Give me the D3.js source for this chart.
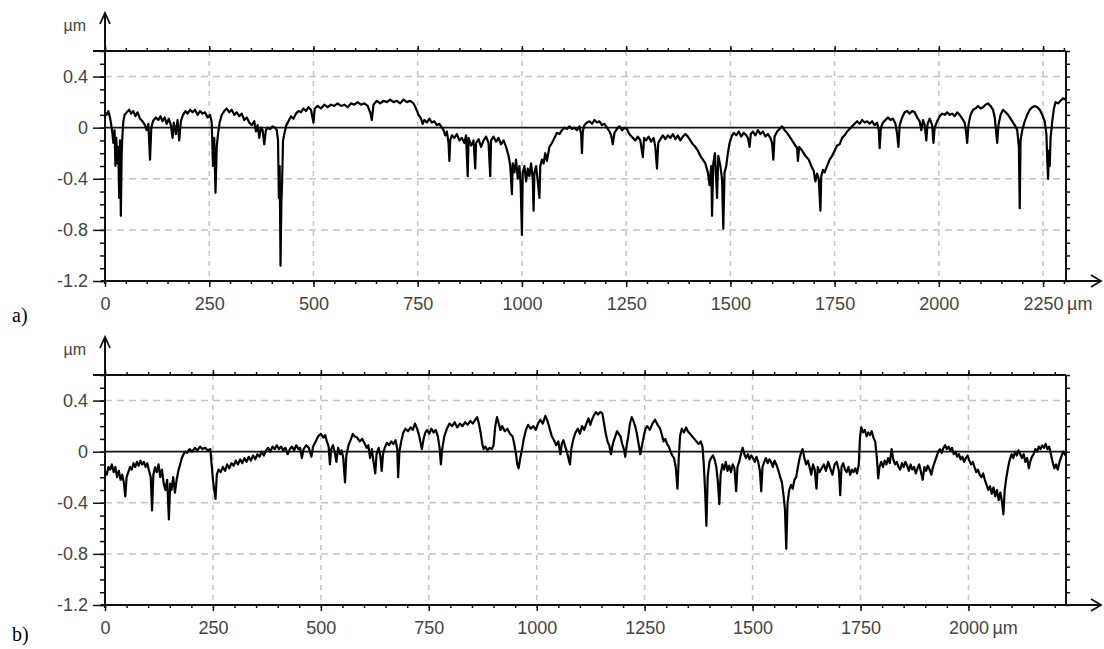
<!DOCTYPE html>
<html>
<head>
<meta charset="utf-8">
<script src="https://cdn.jsdelivr.net/npm/d3@7"></script>
<style>
body { margin: 0; background: #fff; }
</style>
</head>
<body>
<div id="chart"></div>
<script>
// profile a) : [position µm, height µm]
var profileA = [
[0,0.12],[4,0.10],[8,0.13],[12,0.08],[15,0.02],[18,-0.05],[20,-0.12],[23,-0.02],[25,-0.30],[27,-0.08],
[30,-0.28],[32,-0.15],[34,-0.55],[36,-0.10],[38,-0.69],[40,-0.20],[42,-0.05],[44,0.05],[47,0.10],[52,0.12],
[58,0.14],[63,0.11],[68,0.13],[73,0.09],[78,0.12],[84,0.07],[90,0.05],[96,0.02],[100,-0.02],[104,0.03],
[108,-0.25],[111,0.00],[115,0.05],[122,0.08],[128,0.06],[133,0.09],[138,0.05],[143,0.08],[148,0.03],[153,0.07],
[158,0.02],[162,-0.08],[165,0.04],[170,-0.05],[174,0.06],[178,-0.10],[182,0.05],[187,0.10],[193,0.13],[198,0.11],
[204,0.14],[210,0.12],[216,0.14],[222,0.10],[228,0.13],[234,0.11],[240,0.12],[246,0.08],[252,0.10],[256,0.04],
[259,-0.30],[262,-0.08],[265,-0.51],[268,-0.15],[271,-0.05],[275,0.04],[280,0.10],[286,0.13],[292,0.15],[298,0.12],
[304,0.14],[310,0.10],[316,0.12],[322,0.09],[328,0.11],[334,0.06],[340,0.08],[346,0.04],[352,0.02],[358,0.05],
[362,-0.03],[366,0.02],[370,-0.08],[374,0.00],[378,-0.02],[382,-0.13],[386,-0.02],[390,0.00],[396,-0.01],[402,0.01],
[408,0.00],[412,-0.02],[415,-0.10],[417,-0.55],[419,-0.30],[421,-1.08],[423,-0.60],[425,-0.40],[427,-0.10],[430,-0.05],
[435,0.02],[440,0.05],[446,0.09],[452,0.07],[458,0.11],[464,0.13],[470,0.12],[476,0.15],[482,0.13],[488,0.16],
[494,0.14],[500,0.04],[503,0.15],[510,0.17],[518,0.15],[526,0.18],[534,0.16],[542,0.18],[550,0.17],[558,0.19],
[566,0.17],[574,0.18],[582,0.16],[590,0.19],[598,0.18],[606,0.20],[614,0.18],[622,0.19],[630,0.17],[636,0.12],
[640,0.06],[644,0.18],[652,0.21],[660,0.19],[668,0.21],[676,0.20],[684,0.22],[692,0.20],[700,0.21],[708,0.19],
[716,0.22],[724,0.20],[732,0.21],[740,0.19],[746,0.15],[752,0.10],[758,0.07],[762,0.03],[766,0.06],[772,0.04],
[778,0.07],[784,0.04],[790,0.05],[796,0.02],[802,0.03],[808,0.00],[812,-0.02],[816,-0.06],[820,-0.03],[824,-0.12],
[826,-0.26],[828,-0.10],[832,-0.06],[838,-0.08],[844,-0.05],[850,-0.10],[856,-0.08],[862,-0.12],[866,-0.06],[870,-0.38],
[872,-0.08],[878,-0.14],[884,-0.10],[888,-0.32],[890,-0.12],[896,-0.09],[902,-0.15],[908,-0.10],[914,-0.07],[920,-0.12],
[924,-0.38],[926,-0.10],[932,-0.07],[938,-0.11],[944,-0.08],[950,-0.13],[956,-0.10],[962,-0.15],[968,-0.22],[972,-0.30],
[976,-0.52],[978,-0.28],[982,-0.35],[986,-0.25],[990,-0.40],[994,-0.30],[997,-0.45],[1000,-0.84],[1002,-0.35],[1006,-0.30],
[1010,-0.42],[1014,-0.32],[1018,-0.38],[1022,-0.28],[1026,-0.40],[1028,-0.65],[1030,-0.35],[1034,-0.30],[1038,-0.42],[1042,-0.55],
[1044,-0.30],[1048,-0.25],[1052,-0.28],[1056,-0.20],[1060,-0.26],[1066,-0.15],[1072,-0.12],[1078,-0.08],[1084,-0.04],[1090,-0.05],
[1096,-0.02],[1102,0.00],[1108,-0.01],[1114,0.01],[1120,-0.01],[1126,0.00],[1132,-0.02],[1138,0.01],[1142,-0.05],[1144,-0.20],
[1146,-0.03],[1150,0.02],[1156,0.04],[1162,0.05],[1168,0.03],[1174,0.06],[1180,0.04],[1186,0.05],[1192,0.02],[1198,0.03],
[1204,0.00],[1210,-0.03],[1214,-0.06],[1218,-0.13],[1222,-0.04],[1228,-0.01],[1234,0.01],[1240,-0.02],[1246,0.00],[1252,-0.01],
[1256,-0.04],[1260,-0.06],[1266,-0.08],[1272,-0.10],[1278,-0.07],[1284,-0.10],[1290,-0.23],[1293,-0.08],[1298,-0.10],[1304,-0.07],
[1310,-0.11],[1316,-0.08],[1320,-0.15],[1324,-0.32],[1327,-0.12],[1332,-0.09],[1338,-0.06],[1344,-0.09],[1350,-0.06],[1356,-0.08],
[1362,-0.05],[1368,-0.09],[1374,-0.06],[1380,-0.10],[1386,-0.07],[1392,-0.05],[1398,-0.07],[1404,-0.10],[1410,-0.13],[1416,-0.15],
[1422,-0.18],[1428,-0.22],[1434,-0.25],[1440,-0.28],[1446,-0.35],[1450,-0.45],[1454,-0.30],[1456,-0.69],[1459,-0.28],[1463,-0.20],
[1468,-0.55],[1471,-0.22],[1476,-0.30],[1480,-0.40],[1483,-0.79],[1486,-0.35],[1490,-0.30],[1494,-0.20],[1498,-0.12],[1503,-0.07],
[1508,-0.04],[1514,-0.06],[1520,-0.03],[1526,-0.07],[1532,-0.04],[1538,-0.06],[1542,-0.08],[1546,-0.15],[1549,-0.05],[1554,-0.03],
[1560,-0.06],[1566,-0.02],[1572,-0.05],[1578,-0.03],[1584,-0.07],[1590,-0.05],[1596,-0.08],[1600,-0.12],[1603,-0.25],[1606,-0.07],
[1612,-0.03],[1618,-0.01],[1624,0.01],[1630,-0.02],[1636,-0.04],[1642,-0.07],[1648,-0.10],[1654,-0.13],[1660,-0.16],[1662,-0.26],
[1665,-0.15],[1672,-0.18],[1680,-0.22],[1688,-0.25],[1694,-0.30],[1700,-0.34],[1704,-0.42],[1708,-0.36],[1712,-0.40],[1716,-0.65],
[1718,-0.38],[1722,-0.33],[1726,-0.35],[1732,-0.30],[1738,-0.25],[1744,-0.22],[1750,-0.18],[1756,-0.14],[1762,-0.13],[1768,-0.08],
[1774,-0.06],[1780,-0.03],[1786,-0.01],[1792,0.01],[1798,0.03],[1804,0.05],[1810,0.03],[1816,0.06],[1822,0.04],[1828,0.05],
[1834,0.03],[1840,0.05],[1846,0.02],[1852,0.04],[1856,-0.02],[1858,-0.16],[1861,0.00],[1866,0.04],[1872,0.06],[1878,0.08],
[1884,0.06],[1890,0.07],[1896,0.03],[1900,-0.05],[1903,-0.15],[1906,0.02],[1912,0.08],[1918,0.12],[1924,0.13],[1930,0.11],
[1936,0.13],[1942,0.12],[1948,0.08],[1954,0.05],[1958,-0.02],[1962,0.06],[1966,0.02],[1970,-0.10],[1973,0.03],[1978,0.07],
[1984,0.02],[1987,-0.12],[1990,0.00],[1996,0.05],[2002,0.09],[2008,0.11],[2014,0.10],[2020,0.12],[2026,0.10],[2032,0.11],
[2038,0.09],[2044,0.12],[2050,0.10],[2056,0.07],[2062,0.04],[2066,-0.05],[2068,-0.12],[2071,0.02],[2076,0.10],[2082,0.14],
[2088,0.15],[2094,0.17],[2100,0.15],[2106,0.16],[2112,0.18],[2118,0.19],[2124,0.17],[2130,0.14],[2134,0.08],[2138,-0.05],
[2140,-0.12],[2143,0.02],[2148,0.10],[2154,0.14],[2160,0.12],[2166,0.10],[2172,0.07],[2178,0.04],[2184,0.01],[2188,-0.02],
[2192,-0.15],[2194,-0.63],[2196,-0.10],[2200,-0.02],[2206,0.05],[2212,0.10],[2218,0.14],[2224,0.16],[2230,0.17],[2236,0.16],
[2242,0.14],[2248,0.10],[2254,0.05],[2258,-0.05],[2260,-0.25],[2262,-0.40],[2264,-0.18],[2266,-0.30],[2268,-0.08],[2272,0.05],
[2276,0.15],[2280,0.20],[2286,0.19],[2292,0.21],[2298,0.23],[2303,0.22]
];

// profile b)
var profileB = [
[0,-0.15],[4,-0.18],[8,-0.12],[12,-0.14],[16,-0.10],[20,-0.16],[24,-0.12],[28,-0.20],[32,-0.15],[36,-0.22],
[40,-0.18],[44,-0.25],[47,-0.35],[50,-0.20],[54,-0.16],[58,-0.12],[62,-0.14],[66,-0.09],[70,-0.12],[74,-0.08],
[78,-0.11],[82,-0.07],[86,-0.10],[90,-0.08],[94,-0.12],[98,-0.09],[102,-0.15],[106,-0.20],[109,-0.46],[112,-0.18],
[116,-0.12],[120,-0.16],[124,-0.10],[128,-0.20],[132,-0.14],[136,-0.25],[140,-0.30],[144,-0.22],[148,-0.53],[151,-0.25],
[154,-0.30],[158,-0.20],[162,-0.32],[166,-0.22],[170,-0.15],[174,-0.10],[178,-0.05],[182,-0.02],[186,0.00],[190,-0.01],
[196,0.02],[202,0.00],[208,0.03],[214,0.01],[220,0.04],[226,0.02],[232,0.03],[238,0.01],[244,0.02],[247,-0.10],
[250,-0.22],[253,-0.30],[256,-0.37],[259,-0.18],[263,-0.14],[268,-0.16],[273,-0.12],[278,-0.15],[283,-0.10],[288,-0.13],
[293,-0.09],[298,-0.11],[303,-0.07],[308,-0.10],[313,-0.06],[318,-0.09],[323,-0.05],[328,-0.08],[333,-0.04],[338,-0.07],
[343,-0.03],[348,-0.06],[353,-0.02],[358,-0.04],[363,0.00],[368,-0.03],[373,0.01],[378,0.03],[383,0.00],[388,0.04],
[393,0.02],[398,0.05],[403,0.02],[408,0.04],[413,0.01],[418,0.03],[423,-0.02],[428,0.02],[433,0.04],[438,0.01],
[443,0.05],[448,0.02],[452,0.03],[456,-0.05],[460,0.02],[466,0.05],[472,0.03],[478,-0.04],[482,0.04],[488,0.08],
[494,0.12],[500,0.14],[506,0.11],[510,0.13],[514,0.08],[518,0.04],[521,-0.10],[524,0.02],[528,0.05],[532,0.00],
[536,-0.08],[540,0.03],[545,-0.02],[548,0.01],[552,-0.05],[556,-0.24],[559,-0.03],[564,0.05],[570,0.10],[574,0.14],
[578,0.12],[584,0.11],[590,0.08],[596,0.10],[602,0.06],[606,0.03],[610,0.05],[614,-0.05],[618,0.02],[622,-0.08],
[626,-0.17],[629,-0.02],[634,0.03],[638,-0.04],[641,-0.15],[644,-0.02],[648,0.03],[653,0.07],[658,0.05],[663,0.08],
[668,0.06],[673,0.09],[677,0.02],[679,-0.20],[682,0.00],[686,0.08],[691,0.15],[696,0.18],[702,0.16],[708,0.19],
[713,0.17],[718,0.22],[723,0.18],[728,0.12],[732,0.05],[734,0.02],[738,0.10],[742,0.15],[746,0.17],[751,0.14],
[756,0.18],[761,0.15],[766,0.17],[771,0.12],[775,0.03],[778,-0.10],[781,0.02],[786,0.12],[792,0.18],[798,0.22],
[804,0.20],[810,0.23],[816,0.19],[822,0.22],[828,0.20],[834,0.23],[840,0.21],[846,0.24],[852,0.22],[858,0.25],
[862,0.27],[866,0.22],[870,0.15],[874,0.06],[877,0.02],[881,0.04],[886,0.01],[891,0.03],[896,0.02],[900,0.05],
[904,0.20],[908,0.27],[912,0.22],[916,0.17],[920,0.20],[926,0.16],[932,0.18],[938,0.14],[944,0.12],[948,0.06],
[952,-0.02],[955,-0.10],[958,-0.13],[962,-0.05],[966,0.02],[970,0.10],[975,0.17],[980,0.21],[986,0.18],[992,0.20],
[998,0.17],[1003,0.22],[1008,0.25],[1014,0.22],[1020,0.28],[1025,0.24],[1030,0.18],[1035,0.12],[1040,0.09],[1045,0.05],
[1050,0.08],[1055,-0.02],[1058,0.06],[1062,0.09],[1066,0.04],[1070,0.00],[1074,-0.06],[1077,-0.10],[1080,0.02],[1085,0.10],
[1090,0.15],[1095,0.18],[1100,0.14],[1105,0.20],[1110,0.17],[1115,0.22],[1120,0.26],[1124,0.21],[1128,0.25],[1132,0.28],
[1137,0.31],[1142,0.29],[1147,0.31],[1152,0.30],[1156,0.22],[1160,0.14],[1164,0.08],[1168,0.05],[1172,-0.02],[1175,0.04],
[1178,0.08],[1182,0.12],[1186,0.16],[1190,0.14],[1194,0.12],[1198,0.06],[1202,0.02],[1205,-0.04],[1208,0.04],[1212,0.12],
[1216,0.22],[1220,0.27],[1224,0.24],[1228,0.20],[1232,0.14],[1236,0.06],[1240,-0.02],[1244,0.05],[1248,0.12],[1252,0.18],
[1256,0.20],[1262,0.17],[1268,0.22],[1274,0.25],[1280,0.21],[1286,0.18],[1290,0.13],[1294,0.08],[1298,0.10],[1302,0.06],
[1306,0.04],[1310,0.00],[1314,-0.03],[1318,-0.05],[1322,-0.12],[1326,-0.29],[1329,-0.05],[1332,0.12],[1336,0.18],[1341,0.15],
[1346,0.19],[1350,0.16],[1355,0.14],[1360,0.12],[1365,0.10],[1370,0.08],[1375,0.06],[1380,0.08],[1384,0.04],[1387,-0.10],
[1390,-0.30],[1393,-0.58],[1396,-0.20],[1400,-0.08],[1404,-0.05],[1408,-0.03],[1412,-0.06],[1416,-0.12],[1420,-0.25],[1423,-0.41],
[1426,-0.18],[1430,-0.10],[1434,-0.14],[1438,-0.08],[1442,-0.15],[1446,-0.11],[1450,-0.16],[1454,-0.10],[1458,-0.13],[1462,-0.31],
[1465,-0.12],[1469,-0.08],[1473,-0.02],[1477,0.03],[1481,-0.02],[1485,-0.05],[1489,-0.02],[1493,-0.06],[1497,-0.03],[1501,-0.05],
[1505,-0.08],[1509,-0.04],[1513,-0.08],[1517,-0.15],[1520,-0.31],[1523,-0.12],[1527,-0.08],[1531,-0.05],[1535,-0.09],[1539,-0.06],
[1543,-0.08],[1547,-0.12],[1551,-0.07],[1555,-0.10],[1560,-0.15],[1564,-0.20],[1568,-0.24],[1572,-0.35],[1575,-0.45],[1578,-0.76],
[1581,-0.40],[1585,-0.30],[1589,-0.26],[1593,-0.29],[1597,-0.22],[1601,-0.20],[1605,-0.12],[1609,-0.05],[1613,0.00],[1616,0.02],
[1620,-0.05],[1624,-0.10],[1628,-0.07],[1632,-0.12],[1636,-0.18],[1640,-0.10],[1644,-0.14],[1648,-0.29],[1651,-0.12],[1655,-0.16],
[1660,-0.13],[1665,-0.10],[1670,-0.15],[1675,-0.08],[1680,-0.13],[1685,-0.18],[1690,-0.10],[1695,-0.08],[1700,-0.15],[1703,-0.34],
[1706,-0.12],[1710,-0.09],[1714,-0.14],[1718,-0.16],[1722,-0.12],[1726,-0.18],[1730,-0.14],[1734,-0.16],[1738,-0.13],[1742,-0.17],
[1746,-0.10],[1749,0.12],[1752,0.19],[1756,0.15],[1760,0.17],[1764,0.12],[1768,0.15],[1772,0.13],[1776,0.16],[1780,0.11],
[1784,0.08],[1788,-0.05],[1791,-0.21],[1794,-0.12],[1798,-0.08],[1802,-0.12],[1806,-0.07],[1810,-0.10],[1814,-0.05],[1818,-0.09],
[1822,0.02],[1826,-0.06],[1830,-0.10],[1834,-0.08],[1838,-0.12],[1842,-0.14],[1846,-0.09],[1850,-0.12],[1854,-0.08],[1858,-0.11],
[1862,-0.15],[1866,-0.10],[1870,-0.14],[1874,-0.12],[1878,-0.17],[1882,-0.13],[1886,-0.10],[1890,-0.16],[1894,-0.22],[1898,-0.12],
[1902,-0.15],[1906,-0.11],[1910,-0.14],[1914,-0.18],[1918,-0.12],[1922,-0.08],[1926,-0.04],[1930,0.00],[1934,0.02],[1938,-0.01],
[1942,0.03],[1946,0.05],[1950,0.02],[1954,0.04],[1958,0.01],[1962,0.03],[1966,-0.02],[1970,0.00],[1974,-0.04],[1978,-0.02],
[1982,-0.06],[1986,-0.04],[1990,-0.08],[1994,-0.05],[1998,-0.03],[2002,-0.07],[2006,-0.10],[2010,-0.08],[2014,-0.12],[2018,-0.16],
[2022,-0.14],[2026,-0.18],[2030,-0.20],[2034,-0.17],[2038,-0.22],[2042,-0.26],[2046,-0.30],[2050,-0.27],[2054,-0.33],[2058,-0.28],
[2062,-0.35],[2066,-0.30],[2070,-0.38],[2074,-0.32],[2078,-0.40],[2081,-0.49],[2084,-0.30],[2088,-0.20],[2092,-0.12],[2096,-0.06],
[2100,-0.02],[2104,-0.05],[2108,0.00],[2112,-0.03],[2116,0.01],[2120,-0.02],[2124,-0.05],[2128,-0.02],[2132,-0.08],[2136,-0.05],
[2140,-0.13],[2143,-0.08],[2147,-0.04],[2151,-0.02],[2155,0.02],[2159,0.00],[2163,0.04],[2167,0.02],[2171,0.05],[2175,0.03],
[2179,0.06],[2183,0.02],[2187,0.04],[2191,-0.02],[2195,-0.08],[2199,-0.13],[2203,-0.10],[2207,-0.14],[2211,-0.08],[2215,-0.04],
[2219,0.00],[2223,-0.02],[2225,-0.03]
];

var yTicks = [0.4, 0, -0.4, -0.8, -1.2];
var yGrid = [0.4, -0.4, -0.8];
var xTicksA = [0, 250, 500, 750, 1000, 1250, 1500, 1750, 2000, 2250];
var xTicksB = [0, 250, 500, 750, 1000, 1250, 1500, 1750, 2000];
var xMaxA = 2305, xMaxB = 2226;
var yMin = -1.2, yMax = 0.6;

var width = 1104, height = 649;
var font = "'Liberation Sans', Arial, sans-serif";

var svg = d3.select("#chart")
    .append("svg")
    .attr("width", width)
    .attr("height", height);

function styleLabels(sel) {
  sel.selectAll("text")
    .style("font-family", font)
    .style("font-size", "18px")
    .attr("fill", "#444");
}

function drawPanel(dy, data, xMax, xTicks, tag, tagY) {
  var left = 105, right = 1066, top = 51 + dy, bottom = 281 + dy;

  var x = d3.scaleLinear().domain([0, xMax]).range([left, right]);
  var y = d3.scaleLinear().domain([yMin, yMax]).range([bottom, top]);

  var g = svg.append("g");

  // dashed grid
  g.selectAll(".vgrid")
    .data(xTicks.filter(function(d) { return d > 0; }))
    .join("line")
    .attr("x1", function(d) { return x(d); })
    .attr("x2", function(d) { return x(d); })
    .attr("y1", top).attr("y2", bottom)
    .attr("stroke", "#c4c4c4").attr("stroke-width", 1.5)
    .attr("stroke-dasharray", "5,5");

  g.selectAll(".hgrid")
    .data(yGrid)
    .join("line")
    .attr("x1", left).attr("x2", right)
    .attr("y1", function(d) { return y(d); })
    .attr("y2", function(d) { return y(d); })
    .attr("stroke", "#c4c4c4").attr("stroke-width", 1.5)
    .attr("stroke-dasharray", "7,5");

  // zero line
  g.append("line")
    .attr("x1", left).attr("x2", right)
    .attr("y1", y(0)).attr("y2", y(0))
    .attr("stroke", "#111").attr("stroke-width", 1.6);

  // profile
  var line = d3.line()
    .x(function(d) { return x(d[0]); })
    .y(function(d) { return y(d[1]); });

  g.append("path")
    .datum(data)
    .attr("d", line)
    .attr("fill", "none")
    .attr("stroke", "#000")
    .attr("stroke-width", 2.2)
    .attr("stroke-linejoin", "round");

  var minorX = d3.range(0, xMax, 50);
  var minorY = d3.range(-12, 7).map(function(d) { return d / 10; });

  // bottom axis: minor + major
  g.append("g")
    .attr("transform", "translate(0," + bottom + ")")
    .call(d3.axisBottom(x).tickValues(minorX).tickSize(3).tickFormat(""));
  var xAxis = g.append("g")
    .attr("transform", "translate(0," + bottom + ")")
    .call(d3.axisBottom(x).tickValues(xTicks).tickSize(6).tickPadding(10)
      .tickFormat(function(d) { return String(d); }));
  styleLabels(xAxis);

  // top border ticks
  g.append("g")
    .attr("transform", "translate(0," + top + ")")
    .call(d3.axisTop(x).tickValues(minorX).tickSize(3).tickFormat(""));
  g.append("g")
    .attr("transform", "translate(0," + top + ")")
    .call(d3.axisTop(x).tickValues(xTicks).tickSize(5).tickFormat(""));

  // left axis
  g.append("g")
    .attr("transform", "translate(" + left + ",0)")
    .call(d3.axisLeft(y).tickValues(minorY).tickSize(5).tickFormat(""));
  var yAxis = g.append("g")
    .attr("transform", "translate(" + left + ",0)")
    .call(d3.axisLeft(y).tickValues(yTicks).tickSize(12).tickPadding(5)
      .tickFormat(function(d) { return d === 0 ? "0" : String(d); }));
  styleLabels(yAxis);

  // right border ticks
  g.append("g")
    .attr("transform", "translate(" + right + ",0)")
    .call(d3.axisRight(y).tickValues(minorY).tickSize(4).tickFormat(""));

  g.selectAll(".domain").remove();
  g.selectAll(".tick line").attr("stroke", "#111").attr("stroke-width", 1.5);

  // frame and arrows
  var frame = [
    [[93, top], [right, top]],
    [[right, top], [right, bottom]],
    [[left - 4, bottom], [1101, bottom]],
    [[left, bottom + 3], [left, 13 + dy]]
  ];
  g.selectAll(".frame")
    .data(frame)
    .join("path")
    .attr("d", function(d) { return d3.line()(d); })
    .attr("stroke", "#111").attr("stroke-width", 2).attr("fill", "none");

  g.append("path")
    .attr("d", d3.line()([[1091, bottom - 6], [1101, bottom], [1091, bottom + 6]]))
    .attr("stroke", "#111").attr("stroke-width", 1.8).attr("fill", "none");
  g.append("path")
    .attr("d", d3.line()([[left - 5, 24 + dy], [left, 13 + dy], [left + 5, 24 + dy]]))
    .attr("stroke", "#111").attr("stroke-width", 1.8).attr("fill", "none");

  // units
  g.append("text")
    .attr("x", 86).attr("y", 25 + dy)
    .attr("dy", "0.35em")
    .attr("text-anchor", "end")
    .style("font-family", font)
    .style("font-size", "16px").attr("fill", "#444")
    .text("µm");
  var last = xTicks[xTicks.length - 1];
  g.append("text")
    .attr("x", x(last) + 24).attr("y", bottom + 16)
    .attr("dy", "0.71em")
    .style("font-family", font)
    .style("font-size", "18px").attr("fill", "#444")
    .text("µm");

  // panel tag
  g.append("text")
    .attr("x", 12).attr("y", tagY)
    .style("font-family", "'Liberation Serif', 'Times New Roman', serif")
    .style("font-size", "20px")
    .attr("fill", "#000")
    .text(tag);
}

drawPanel(0, profileA, xMaxA, xTicksA, "a)", 322);
drawPanel(324, profileB, xMaxB, xTicksB, "b)", 641);
</script>
</body>
</html>
